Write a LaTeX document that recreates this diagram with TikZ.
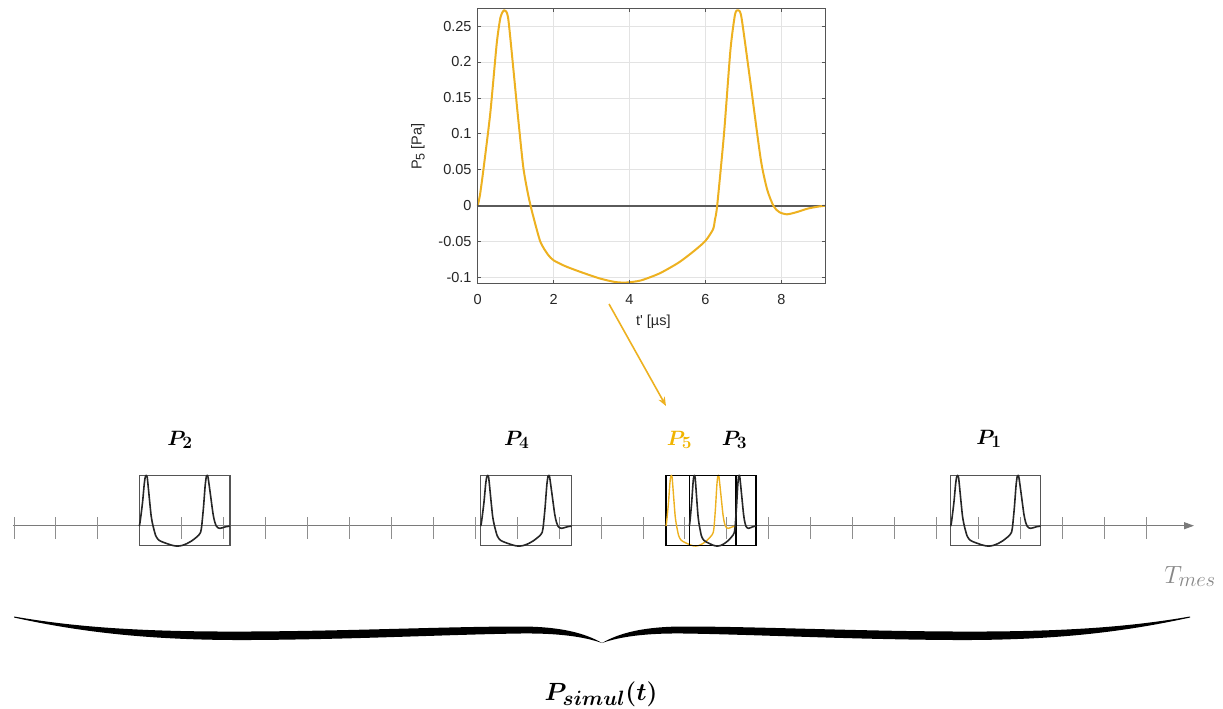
\documentclass[tikz,border=0pt]{standalone}
\usepackage{fontspec}
\usepackage{amsmath}
\usepackage{bm}
\newfontfamily\plotfont{Liberation Sans}
\usetikzlibrary{arrows.meta}
\DeclareMathSizes{21}{21}{17.5}{12}
\DeclareMathSizes{24}{24}{20}{14}
\DeclareMathSizes{25}{25}{20}{14}
\definecolor{pulse}{HTML}{EDB120}
\definecolor{plbl}{HTML}{F0B400}
\definecolor{gridc}{HTML}{E3E3E3}
\definecolor{framec}{HTML}{555555}
\definecolor{txtc}{HTML}{262626}
\definecolor{zeroc}{HTML}{5A5A5A}
\definecolor{tlc}{HTML}{7A7A7A}
\definecolor{boxc}{HTML}{555555}
\newcommand\pulsecurve[1]{\draw[#1] plot[smooth,tension=0.4] coordinates {
(0,0) (0.06,0.015) (0.15,0.05) (0.33,0.128) (0.5,0.225) (0.6,0.262) (0.7,0.272) (0.8,0.262) (0.94,0.19) (1.05,0.13) (1.2,0.054) (1.33,0.015) (1.45,-0.012) (1.65,-0.05) (1.85,-0.068) (2.0,-0.076) (2.3,-0.084) (2.7,-0.092) (3.2,-0.101) (3.6,-0.106) (3.9,-0.107) (4.3,-0.104) (4.8,-0.094) (5.3,-0.079) (5.7,-0.063) (6.0,-0.049) (6.2,-0.033) (6.25,-0.02) (6.31,0.0) (6.49,0.1) (6.66,0.217) (6.78,0.266) (6.86,0.272) (6.95,0.262) (7.19,0.17) (7.46,0.064) (7.63,0.022) (7.8,-0.001) (7.95,-0.009) (8.15,-0.012) (8.4,-0.009) (8.7,-0.004) (9.0,-0.001) (9.17,0)};}
\newcommand\bracehalf{\fill (14,617.5) .. controls (80,632) and (150,640.5) .. (250,640) .. controls (350,639.5) and (450,634.5) .. (520,633.5) .. controls (560,633) and (585,637) .. (602,643)
 .. controls (585,633) and (560,626.5) .. (520,626.5) .. controls (450,626.5) and (350,631) .. (250,631.5) .. controls (150,632) and (80,628) .. (14,616.5) -- cycle;}
\tikzset{
  gridline/.style={draw=gridc, line width=0.7pt},
  frameline/.style={draw=framec, line width=0.8pt},
  ticklab/.style={font=\plotfont\fontsize{14.5}{16}\selectfont, text=txtc, inner sep=0pt},
  mainpulse/.style={draw=pulse, line width=2pt, line join=round},
  minibox/.style={draw=boxc, line width=1.1pt},
  darkbox/.style={draw=black, line width=1.1pt},
  minicurve/.style={draw=black!85, line width=1.6pt, line join=round},
  yminicurve/.style={draw=pulse, line width=1.4pt, line join=round},
  tick/.style={draw=tlc!85, line width=0.9pt},
  tline/.style={draw=tlc, line width=1pt, -{Triangle[length=10pt,width=7pt]}},
  plab/.style={font=\fontsize{21}{24}\selectfont, anchor=base, inner sep=0pt},
  yarrow/.style={draw=pulse, line width=1.6pt, -{Stealth[length=9pt,width=7pt]}}
}
\begin{document}
\begin{tikzpicture}[x=1pt,y=-1pt]
\useasboundingbox (0,0) rectangle (1223,709);
% ---------- main plot ----------
\begin{scope}[shift={(477.7,205.7)}, x={(37.95pt,0pt)}, y={(0pt,718.6pt)}]
  \foreach \t in {2,4,6,8} \draw[gridline] (\t,-0.108) -- (\t,0.2747);
  \foreach \p in {-0.1,-0.05,0.05,0.1,0.15,0.2,0.25} \draw[gridline] (0,\p) -- (9.17,\p);
  \draw[draw=zeroc, line width=2.2pt] (0,0) -- (9.17,0);
  \pulsecurve{mainpulse}
  \draw[frameline] (0,-0.108) rectangle (9.17,0.2747);
  \foreach \t in {0,2,4,6,8} {
    \draw[frameline] (\t,-0.108) -- ++(0,0.0045);
    \draw[frameline] (\t,0.2747) -- ++(0,-0.0045);
  }
  \foreach \p in {-0.1,-0.05,0,0.05,0.1,0.15,0.2,0.25} {
    \draw[frameline] (0,\p) -- ++(0.09,0);
    \draw[frameline] (9.17,\p) -- ++(-0.09,0);
  }
  \foreach \p/\lab [count=\i] in {-0.1/-0.1,-0.05/-0.05,0/0,0.05/0.05,0.1/0.1,0.15/0.15,0.2/0.2,0.25/0.25}
    \node[ticklab, anchor=east, xshift=-6pt] (yl\i) at (0,\p) {\lab};
  \foreach \t [count=\i] in {0,2,4,6,8}
    \node[ticklab, anchor=north, yshift=-11pt] (xl\i) at (\t,-0.108) {\t};
\end{scope}
\node[ticklab, rotate=90] (ylab) at (418,146.7) {P\raisebox{-3pt}{\fontsize{12.5}{14}\selectfont 5} [Pa]};
\node[ticklab] (xlab) at (653.3,321.7) {t\textquotesingle{} [µs]};
% ---------- arrow ----------
\coordinate (arrS) at (609,304);
\coordinate (arrE) at (666,406);
\draw[yarrow] (arrS) -- (arrE);
% ---------- timeline ----------
\coordinate (tl0) at (13,525.7);
\coordinate (tl1) at (1194,525.7);
\draw[tline] (tl0) -- (tl1);
\foreach \i in {0,...,27} \draw[tick] ({14+41.93*\i},517) -- ({14+41.93*\i},538.5);
% ---------- mini pulses ----------
\begin{scope}[shift={(139.3,526.1)}, x={(9.89pt,0pt)}, y={(0pt,186.7pt)}]
  \draw[minibox] (0,-0.105) rectangle (9.17,0.27);
  \pulsecurve{minicurve}
\end{scope}
\begin{scope}[shift={(480.7,526.1)}, x={(9.92pt,0pt)}, y={(0pt,186.7pt)}]
  \draw[minibox] (0,-0.105) rectangle (9.17,0.27);
  \pulsecurve{minicurve}
\end{scope}
\begin{scope}[shift={(950.7,526.1)}, x={(9.81pt,0pt)}, y={(0pt,186.7pt)}]
  \draw[minibox] (0,-0.105) rectangle (9.17,0.27);
  \pulsecurve{minicurve}
\end{scope}
\begin{scope}[shift={(666,526.1)}, x={(7.63pt,0pt)}, y={(0pt,186.7pt)}]
  \draw[darkbox] (0,-0.105) rectangle (9.17,0.27);
  \pulsecurve{yminicurve}
\end{scope}
\begin{scope}[shift={(689.3,526.1)}, x={(7.27pt,0pt)}, y={(0pt,186.7pt)}]
  \draw[darkbox] (0,-0.105) rectangle (9.17,0.27);
  \pulsecurve{minicurve}
\end{scope}
% ---------- labels ----------
\node[plab] (p2) at (180,445) {$\bm{P_2}$};
\node[plab] (p4) at (516.7,445) {$\bm{P_4}$};
\node[plab, text=plbl] (p5) at (679.5,445) {$\bm{P_5}$};
\node[plab] (p3) at (734.5,445) {$\bm{P_3}$};
\node[plab] (p1) at (989,444) {$\bm{P_1}$};
\node[font=\fontsize{25}{28}\selectfont, text=tlc!90, anchor=base, inner sep=0pt] (tmes) at (1190,583) {$T_{mes}$};
% ---------- brace ----------
\bracehalf
\begin{scope}[xshift=1204pt, xscale=-1]
  \bracehalf
\end{scope}
\node[font=\fontsize{24}{28}\selectfont, anchor=base, inner sep=0pt] (psim) at (601,700) {$\bm{P_{simul}(t)}$};
\end{tikzpicture}
\end{document}
